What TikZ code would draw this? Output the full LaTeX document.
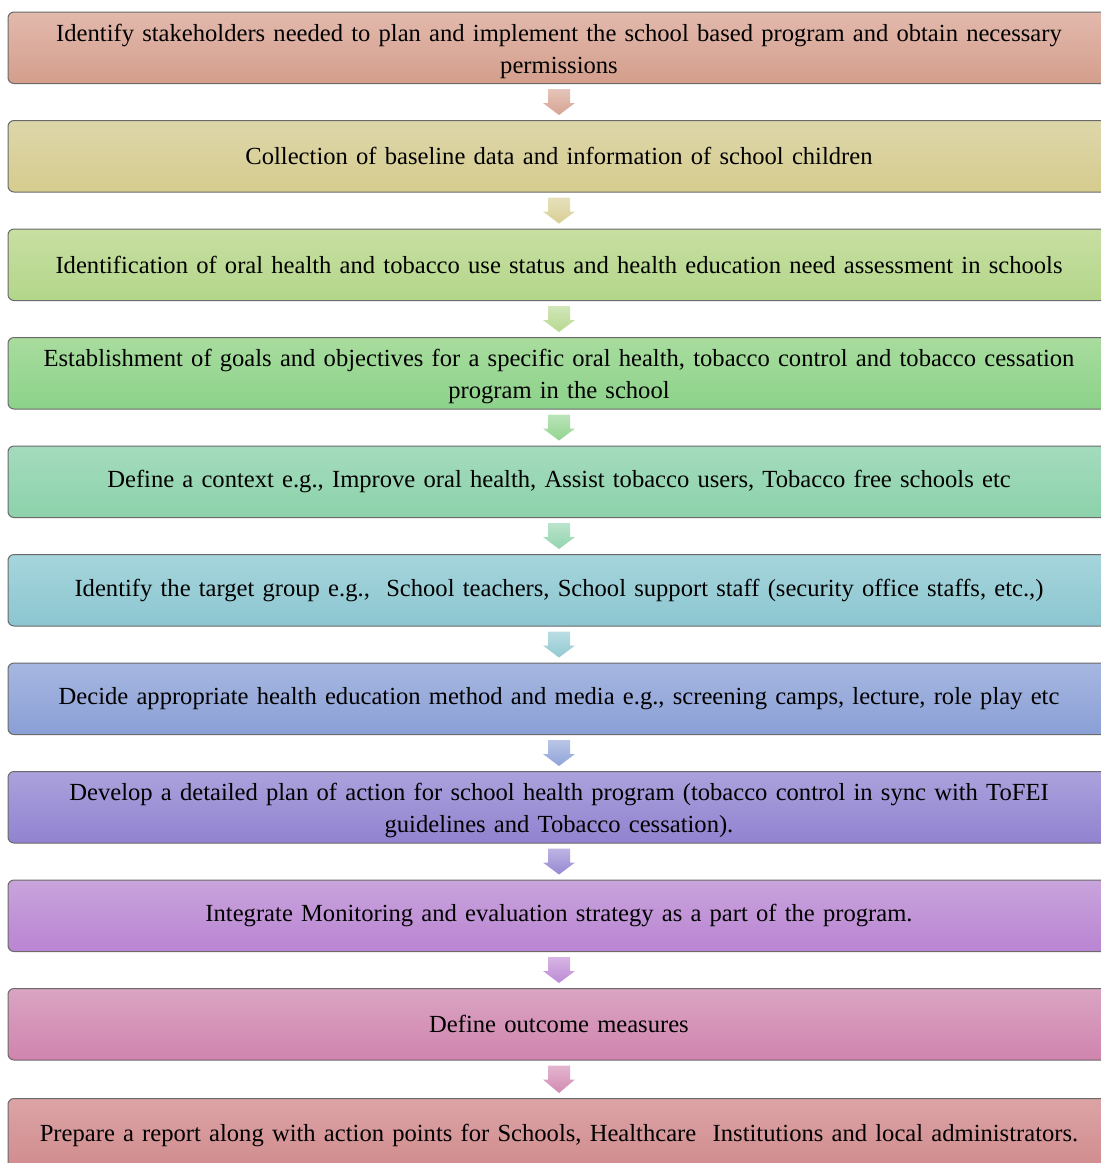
\documentclass[tikz,border=0pt]{standalone}
\usepackage{fontspec}
\setmainfont{Liberation Serif}[WordSpace=0.75]
\usetikzlibrary{calc}
\definecolor{bA}{HTML}{E2B9AC}\definecolor{bAb}{HTML}{D49E8C}
\definecolor{bB}{HTML}{DDD6AA}\definecolor{bBb}{HTML}{D6CC8E}
\definecolor{bC}{HTML}{C8DFA2}\definecolor{bCb}{HTML}{B3D68A}
\definecolor{bD}{HTML}{A8DC9E}\definecolor{bDb}{HTML}{8CD28A}
\definecolor{bE}{HTML}{A4DBBE}\definecolor{bEb}{HTML}{8CD2AA}
\definecolor{bF}{HTML}{A6D5DC}\definecolor{bFb}{HTML}{8CC6D0}
\definecolor{bG}{HTML}{A6B7E0}\definecolor{bGb}{HTML}{8A9FD6}
\definecolor{bH}{HTML}{AAA2DC}\definecolor{bHb}{HTML}{9282D0}
\definecolor{bI}{HTML}{C8A4DC}\definecolor{bIb}{HTML}{BA84D2}
\definecolor{bJ}{HTML}{DAA4C2}\definecolor{bJb}{HTML}{D084AE}
\definecolor{bK}{HTML}{DCA4A6}\definecolor{bKb}{HTML}{D08A8C}
\definecolor{edge}{HTML}{6A6A6A}
\tikzset{
  stepbox/.style={draw=edge, line width=1pt, rounded corners=6pt,
    minimum width=1102pt, minimum height=71.5pt, text width=1090pt,
    align=center, inner sep=0pt,
    font=\fontsize{24.6}{32}\selectfont, text=black},
  flowarrow/.style={draw=none}
}
\newcommand\lift{\rule{0pt}{24pt}}
\newcommand\blockarrow[3]{%
  \path[flowarrow, top color=#3!60!white, bottom color=#3!95!white]
    let \p1=(#1.south), \p2=(#2.north) in
    (\x1-11pt,\y1-5pt) -- (\x1+11pt,\y1-5pt) -- (\x1+11pt,\y1-19pt)
    -- (\x1+16pt,\y1-19pt) -- (\x1,\y2+5pt) -- (\x1-16pt,\y1-19pt)
    -- (\x1-11pt,\y1-19pt) -- cycle;}
\begin{document}
\begin{tikzpicture}[x=1pt,y=-1pt]
\useasboundingbox (0,0) rectangle (1101,1163);
\fill[white] (0,0) rectangle (1101,1163);
\node[stepbox, top color=bA, bottom color=bAb] (b1) at (559,47.75)
  {\lift Identify stakeholders needed to plan and implement the school based program and obtain necessary\\permissions};
\node[stepbox, top color=bB, bottom color=bBb] (b2) at (559,156.25)
  {Collection of baseline data and information of school children};
\node[stepbox, top color=bC, bottom color=bCb] (b3) at (559,264.75)
  {Identification of oral health and tobacco use status and health education need assessment in schools};
\node[stepbox, top color=bD, bottom color=bDb] (b4) at (559,373.25)
  {\lift Establishment of goals and objectives for a specific oral health, tobacco control and tobacco cessation\\program in the school};
\node[stepbox, top color=bE, bottom color=bEb] (b5) at (559,481.75)
  {Define a context e.g., Improve oral health, Assist tobacco users, Tobacco free schools etc};
\node[stepbox, top color=bF, bottom color=bFb] (b6) at (559,590.25)
  {Identify the target group e.g.,\ \ School teachers, School support staff (security office staffs, etc.,)};
\node[stepbox, top color=bG, bottom color=bGb] (b7) at (559,698.75)
  {Decide appropriate health education method and media e.g., screening camps, lecture, role play etc};
\node[stepbox, top color=bH, bottom color=bHb] (b8) at (559,807.25)
  {\lift Develop a detailed plan of action for school health program (tobacco control in sync with ToFEI\\guidelines and Tobacco cessation).};
\node[stepbox, top color=bI, bottom color=bIb] (b9) at (559,915.75)
  {Integrate Monitoring and evaluation strategy as a part of the program.};
\node[stepbox, top color=bJ, bottom color=bJb] (b10) at (559,1024.25)
  {Define outcome measures};
\node[stepbox, top color=bK, bottom color=bKb, minimum height=74pt] (b11) at (559,1135.5)
  {Prepare a report along with action points for Schools, Healthcare\ \ Institutions and local administrators.};
\blockarrow{b1}{b2}{bAb}
\blockarrow{b2}{b3}{bBb}
\blockarrow{b3}{b4}{bCb}
\blockarrow{b4}{b5}{bDb}
\blockarrow{b5}{b6}{bEb}
\blockarrow{b6}{b7}{bFb}
\blockarrow{b7}{b8}{bGb}
\blockarrow{b8}{b9}{bHb}
\blockarrow{b9}{b10}{bIb}
\blockarrow{b10}{b11}{bJb}
\end{tikzpicture}
\end{document}
